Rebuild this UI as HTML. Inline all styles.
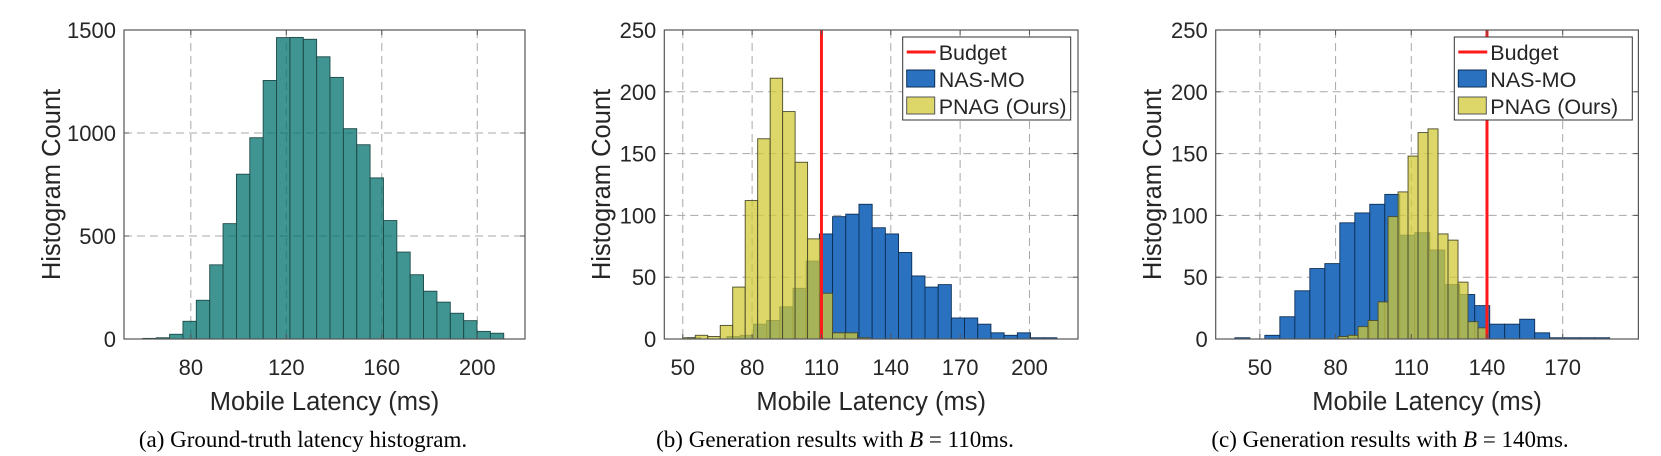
<!DOCTYPE html>
<html><head><meta charset="utf-8">
<style>
html,body{margin:0;padding:0;background:#fff;}
svg{display:block;}
text{font-family:"Liberation Sans",Arial,sans-serif;fill:#262626;}
.cap{font-family:"Liberation Serif","Times New Roman",serif;fill:#000;}
</style></head>
<body>
<svg id="fig" width="1661" height="456" viewBox="0 0 1661 456" xmlns="http://www.w3.org/2000/svg"></svg>
<script>
// ---------- data ----------
const c1Counts = [3,6,23,86,188,360,560,800,977,1255,1463,1464,1455,1370,1270,1021,943,782,575,422,312,232,179,125,89,37,28];
const c1BinStart = 59.9, c1BinWidth = 5.6;
const c1XTicks = [80,120,160,200];
const c1YTicks = [0,500,1000,1500];

const c2Nas = [1,0,0,2,3,12,15,26,41,63,85,99,101,109,90,85,70,51,42,44,17,17,12,5,3,5,1,1];
const c2NasStart = 52.0, c2NasWidth = 5.71;
const c2Pnag = [1,3,2,11,42,112,162,211,184,143,81,37,5,5,1];
const c2PnagStart = 50.0, c2PnagWidth = 5.4;
const c2Budget = 110;
const c2XTicks = [50,80,110,140,170,200];
const c2YTicks = [0,50,100,150,200,250];

const c3Nas = [1,0,3,18,39,57,61,94,102,109,117,84,86,72,44,36,27,12,12,16,5,1,1,1,1];
const c3NasStart = 40.1, c3NasWidth = 5.94;
const c3Pnag = [2,3,10,15,30,99,119,148,167,170,85,80,46,14,9];
const c3PnagStart = 81.0, c3PnagWidth = 3.96;
const c3Budget = 140;
const c3XTicks = [50,80,110,140,170];
const c3YTicks = [0,50,100,150,200,250];

const NS = "http://www.w3.org/2000/svg";
const svg = document.getElementById('fig');
function mk(tag, attrs, parent){
  const e = document.createElementNS(NS, tag);
  for (const k in attrs) e.setAttribute(k, attrs[k]);
  (parent||svg).appendChild(e);
  return e;
}

function panel(cfg){
  const g = mk('g', {});
  
  
  const L=cfg.left,R=cfg.right,T=30,B=339;
  const xs = v => L + (v - cfg.xmin)/(cfg.xmax-cfg.xmin)*(R-L);
  const ys = v => B - v/cfg.ymax*(B-T);
  cfg.xTicks.forEach(t=>{
    const l = mk('line',{x1:xs(t),x2:xs(t),y1:T,y2:B,stroke:'#a8a8a8','stroke-width':1,'stroke-dasharray':'8,5'},g);
    
    
  });
  cfg.yTicks.forEach(t=>{
    if(t===0||t===cfg.ymax) return;
    const l = mk('line',{x1:L,x2:R,y1:ys(t),y2:ys(t),stroke:'#a8a8a8','stroke-width':1,'stroke-dasharray':'8,5'},g);
    
    
  });
  cfg.series.forEach(s=>{
    s.counts.forEach((c,i)=>{
      if(c<=0) return;
      const x0 = xs(s.start + i*s.width), x1 = xs(s.start + (i+1)*s.width);
      const r = mk('rect',{x:x0,y:ys(c),width:x1-x0,height:ys(0)-ys(c),fill:s.fill,'fill-opacity':s.alpha,stroke:s.stroke,'stroke-width':0.9},g);
      
      
    });
  });
  if(cfg.budget!==undefined){
    const bl = mk('line',{x1:xs(cfg.budget),x2:xs(cfg.budget),y1:T,y2:B,stroke:'#ff1a1a','stroke-width':3},g);
    
    
  }
  const box = mk('rect',{x:L,y:T,width:R-L,height:B-T,fill:'none',stroke:'#555','stroke-width':1.2},g);
  
  
  cfg.xTicks.forEach(t=>{
    mk('line',{x1:xs(t),x2:xs(t),y1:B,y2:B-5,stroke:'#555','stroke-width':1},g);
    mk('line',{x1:xs(t),x2:xs(t),y1:T,y2:T+5,stroke:'#555','stroke-width':1},g);
    const tx = mk('text',{x:xs(t),y:375,'text-anchor':'middle','font-size':22},g);
    tx.textContent = t;
    
    
  });
  cfg.yTicks.forEach(t=>{
    mk('line',{x1:L,x2:L+5,y1:ys(t),y2:ys(t),stroke:'#555','stroke-width':1},g);
    mk('line',{x1:R,x2:R-5,y1:ys(t),y2:ys(t),stroke:'#555','stroke-width':1},g);
    const ty = mk('text',{x:L-8,y:ys(t)+8,'text-anchor':'end','font-size':22},g);
    ty.textContent = t;
    
    
  });
  const xl = mk('text',{x:(L+R)/2,y:410,'text-anchor':'middle','font-size':25.5},g);
  xl.textContent = 'Mobile Latency (ms)';
  
  
  const yl = mk('text',{x:0,y:0,'text-anchor':'middle','font-size':25.5,transform:`translate(${cfg.ylabelX},${(T+B)/2}) rotate(-90)`},g);
  yl.textContent = 'Histogram Count';
  
  
  const cp = mk('text',{x:cfg.capX,y:447,'text-anchor':'middle','font-size':23,class:'cap'},g);
  cp.innerHTML = cfg.caption;
  
  
  if(cfg.legend){
    const lx = cfg.legend, lg = mk('g',{},g);
    
    
    mk('rect',{x:lx,y:37,width:cfg.legendW,height:83,fill:'#fff',stroke:'#333','stroke-width':1},lg);
    const l1 = mk('line',{x1:lx+4,x2:lx+33,y1:52,y2:52,stroke:'#ff1a1a','stroke-width':3},lg);
    
    
    const p2 = mk('rect',{x:lx+4,y:70,width:28,height:17,fill:'#2a72c0',stroke:'#0d2e55','stroke-width':1},lg);
    
    
    const p3 = mk('rect',{x:lx+4,y:97,width:28,height:17,fill:'#d2c937','fill-opacity':0.75,stroke:'#555','stroke-width':1},lg);
    
    
    [['Budget',60],['NAS-MO',87],['PNAG (Ours)',114]].forEach(([s,y])=>{
      const t = mk('text',{x:lx+36,y:y,'font-size':21.5},lg);
      t.textContent = s;
      
      
    });
  }
}

panel({name:'chart-ground-truth',left:124,right:525,xmin:52,xmax:220,ymax:1500,
  xTicks:c1XTicks,yTicks:c1YTicks,ylabelX:60,capX:303,
  caption:'(a) Ground-truth latency histogram.',
  series:[{counts:c1Counts,start:c1BinStart,width:c1BinWidth,fill:'#00726e',alpha:0.75,stroke:'#1d4a48',barName:'ground-truth-bar'}]});

panel({name:'chart-budget-110',left:664.3,right:1078,xmin:42,xmax:221,ymax:250,
  xTicks:c2XTicks,yTicks:c2YTicks,ylabelX:610,capX:835,budget:c2Budget,legend:902.7,legendW:168,
  caption:'(b) Generation results with <tspan font-style="italic">B</tspan> = 110ms.',
  series:[{counts:c2Nas,start:c2NasStart,width:c2NasWidth,fill:'#2a72c0',alpha:1,stroke:'#0d2e55',barName:'nas-mo-bar'},
          {counts:c2Pnag,start:c2PnagStart,width:c2PnagWidth,fill:'#d2c937',alpha:0.75,stroke:'#4a4a2a',barName:'pnag-bar'}]});

panel({name:'chart-budget-140',left:1215.7,right:1638.4,xmin:32.5,xmax:200,ymax:250,
  xTicks:c3XTicks,yTicks:c3YTicks,ylabelX:1161,capX:1390,budget:c3Budget,legend:1454.3,legendW:178,
  caption:'(c) Generation results with <tspan font-style="italic">B</tspan> = 140ms.',
  series:[{counts:c3Nas,start:c3NasStart,width:c3NasWidth,fill:'#2a72c0',alpha:1,stroke:'#0d2e55',barName:'nas-mo-bar'},
          {counts:c3Pnag,start:c3PnagStart,width:c3PnagWidth,fill:'#d2c937',alpha:0.75,stroke:'#4a4a2a',barName:'pnag-bar'}]});
</script>
</body></html>
